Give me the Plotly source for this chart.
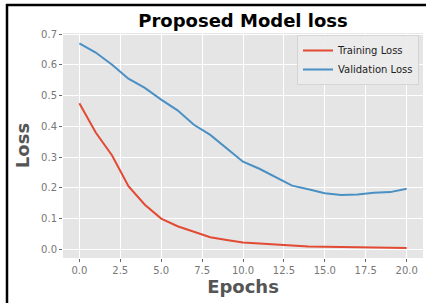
import plotly.graph_objects as go

epochs = list(range(21))
training_loss = [0.475, 0.380, 0.305, 0.205, 0.145, 0.100, 0.075, 0.056, 0.039, 0.030,
                 0.022, 0.019, 0.015, 0.011, 0.009, 0.008, 0.007, 0.007, 0.006, 0.006, 0.004]
validation_loss = [0.670, 0.640, 0.600, 0.555, 0.525, 0.487, 0.452, 0.405, 0.372, 0.330,
                   0.285, 0.262, 0.235, 0.207, 0.195, 0.182, 0.177, 0.178, 0.184, 0.186, 0.197]
x_ticks = [0, 2.5, 5, 7.5, 10, 12.5, 15, 17.5, 20]
y_ticks = [0.0, 0.1, 0.2, 0.3, 0.4, 0.5, 0.6, 0.7]

FONT = "DejaVu Sans"
W, H = 426, 303
L, R, T, B = 63, 3, 33, 45

fig = go.Figure()
fig.add_trace(go.Scatter(x=epochs, y=training_loss, mode="lines", name="Training Loss",
                         line=dict(color="#E24A33", width=2)))
fig.add_trace(go.Scatter(x=epochs, y=validation_loss, mode="lines", name="Validation Loss",
                         line=dict(color="#4A90C4", width=2)))

pw = W - L - R
ph = H - T - B

def px_x(p):
    return (p - L) / pw

def px_y(p):
    return (H - B - p) / ph

fig.update_layout(
    width=W, height=H,
    margin=dict(l=L, r=R, t=T, b=B, pad=0),
    paper_bgcolor="white",
    plot_bgcolor="#E5E5E5",
    font=dict(family=FONT, size=10, color="#555555"),
    title=dict(text="Proposed Model loss", x=0.5, xref="paper", xanchor="center",
               y=1 - 21 / H, yref="container", yanchor="middle",
               font=dict(family=FONT, size=18, color="black", weight="bold")),
    showlegend=True,
    legend=dict(x=px_x(419), xanchor="right", y=px_y(35), yanchor="top",
                bgcolor="rgba(235,235,235,0.9)", bordercolor="#D4D4D4", borderwidth=1,
                font=dict(family=FONT, size=10, color="#222222"),
                itemwidth=30, tracegroupgap=0),
    xaxis=dict(range=[-1, 21], tickvals=x_ticks, tickformat=".1f",
               showgrid=True, gridcolor="white", gridwidth=1, zeroline=False,
               showline=False, mirror=False,
               ticks="outside", ticklen=3, tickcolor="#666666",
               tickfont=dict(family=FONT, size=10, color="#777777"),
               title=dict(text="Epochs", standoff=4,
                          font=dict(family=FONT, size=18, color="#555555", weight="bold"))),
    yaxis=dict(range=[-0.0283, 0.7035], tickvals=y_ticks, tickformat=".1f",
               showgrid=True, gridcolor="white", gridwidth=1, zeroline=False,
               showline=False, mirror=False,
               ticks="outside", ticklen=3, tickcolor="#666666",
               tickfont=dict(family=FONT, size=10, color="#777777"),
               title=dict(text="Loss", standoff=6,
                          font=dict(family=FONT, size=18, color="#555555", weight="bold"))),
    shapes=[
        dict(type="line", xref="paper", yref="paper",
             x0=px_x(7), x1=px_x(7), y0=px_y(4), y1=px_y(H),
             line=dict(color="black", width=2.5)),
        dict(type="line", xref="paper", yref="paper",
             x0=px_x(6), x1=px_x(W), y0=px_y(5), y1=px_y(5),
             line=dict(color="black", width=2.5)),
    ],
)

fig.write_html("out.html", config={"displayModeBar": False, "staticPlot": True},
               post_script="document.body.style.margin='0';document.body.style.overflow='hidden';")
